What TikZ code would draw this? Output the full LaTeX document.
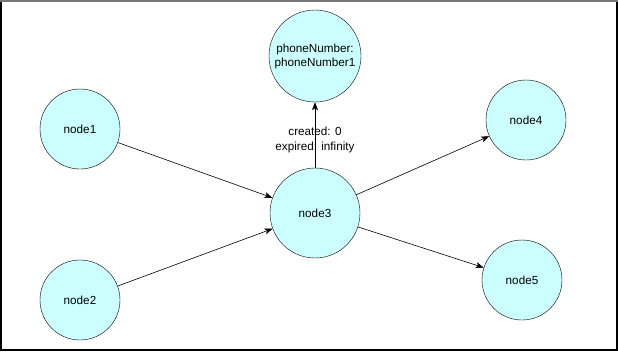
\documentclass[tikz,border=0pt]{standalone}
\usepackage{fontspec}
\setmainfont{Liberation Sans}
\usetikzlibrary{arrows.meta}
\definecolor{nodefill}{RGB}{204,255,255}
\definecolor{framegray}{RGB}{120,120,120}

\begin{document}
\begin{tikzpicture}[x=1pt, y=-1pt, >={Stealth[length=8pt, width=6pt, inset=2pt]},
    vertex/.style={circle, draw, fill=nodefill, minimum size=80pt, inner sep=0pt,
        font=\fontsize{11.7}{14}\selectfont, align=center},
    link/.style={->, semithick}]
  \useasboundingbox (0,0) rectangle (618,351);
  \draw[line width=1.2pt] (1,1) rectangle (617,350);
  \draw[framegray, line width=2pt] (0,1) -- (618,1);

  \node[vertex] (node1) at (80,129) {node1};
  \node[vertex] (node2) at (80,300) {node2};
  \node[vertex, minimum size=90pt] (node3) at (315,213) {node3};
  \node[vertex] (node4) at (526,120) {node4};
  \node[vertex] (node5) at (522,280) {node5};
  \node[vertex, minimum size=92pt] (phone) at (315,56) {phoneNumber:\\phoneNumber1};

    \draw[link] (node1) -- (node3);
    \draw[link] (node2) -- (node3);
    \draw[link] (node3) -- (node4);
    \draw[link] (node3) -- (node5);
    \draw[link] (node3) -- (phone) node[pos=0.43, inner sep=1pt,
        font=\fontsize{11.7}{15}\selectfont, align=center] {created: 0\\expired: infinity};
\end{tikzpicture}
\end{document}
